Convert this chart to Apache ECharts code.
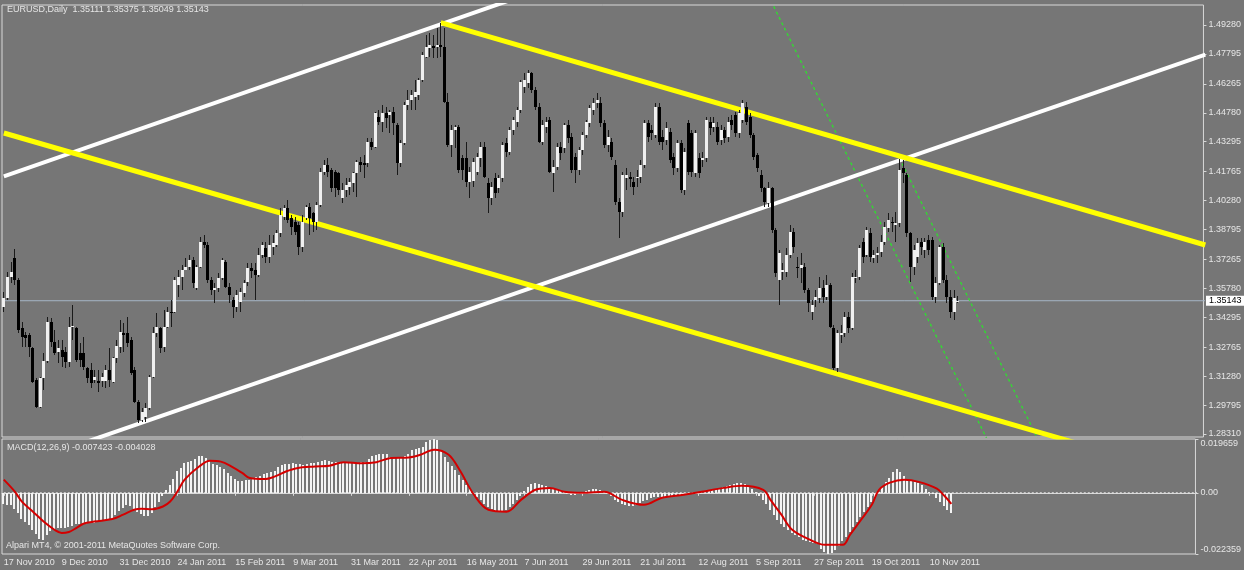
<!DOCTYPE html>
<html><head><meta charset="utf-8">
<script src="https://cdn.jsdelivr.net/npm/echarts@6/dist/echarts.min.js"></script>
<style>html,body{margin:0;padding:0;background:#767676;}#c{width:1244px;height:570px;}</style>
</head><body><div id="c"></div><script>
const symbolName = 'EURUSD', timeframe = 'Daily';
const startDate = '2010-11-17';
const dateTicks = ['17 Nov 2010','9 Dec 2010','31 Dec 2010','24 Jan 2011','15 Feb 2011','9 Mar 2011','31 Mar 2011','22 Apr 2011','16 May 2011','7 Jun 2011','29 Jun 2011','21 Jul 2011','12 Aug 2011','5 Sep 2011','27 Sep 2011','19 Oct 2011','10 Nov 2011'];
const priceTicks = [1.28310,1.29795,1.31280,1.32765,1.34295,1.35780,1.37265,1.38795,1.40280,1.41765,1.43295,1.44780,1.46265,1.47795,1.49280];
const macdTicks = [-0.022359, 0, 0.019659];
// [open, close, low, high]
const ohlc = [
[1.3483,1.3526,1.3458,1.3560],[1.3526,1.3637,1.3518,1.3663],[1.3637,1.3663,1.3603,1.3714],[1.3731,1.3620,1.3595,1.3778],[1.3620,1.3364,1.3347,1.3629],
[1.3372,1.3330,1.3278,1.3407],[1.3338,1.3321,1.3278,1.3355],[1.3338,1.3278,1.3227,1.3347],[1.3270,1.3099,1.3090,1.3278],[1.3107,1.2967,1.2962,1.3116],
[1.2967,1.3116,1.2962,1.3125],[1.3116,1.3207,1.3056,1.3244],[1.3207,1.3407,1.3193,1.3432],[1.3407,1.3304,1.3278,1.3424],[1.3304,1.3248,1.3236,1.3364],
[1.3253,1.3270,1.3193,1.3313],[1.3261,1.3227,1.3176,1.3313],[1.3253,1.3202,1.3168,1.3278],[1.3202,1.3381,1.3176,1.3432],[1.3381,1.3384,1.3313,1.3492],
[1.3372,1.3210,1.3202,1.3381],[1.3244,1.3210,1.3176,1.3296],[1.3244,1.3176,1.3159,1.3330],[1.3168,1.3116,1.3090,1.3176],[1.3159,1.3090,1.3065,1.3193],
[1.3107,1.3125,1.3090,1.3159],[1.3104,1.3095,1.3048,1.3159],[1.3104,1.3125,1.3073,1.3142],[1.3104,1.3159,1.3065,1.3185],[1.3159,1.3107,1.3073,1.3270],
[1.3099,1.3219,1.3090,1.3227],[1.3219,1.3282,1.3193,1.3313],[1.3278,1.3355,1.3244,1.3415],[1.3347,1.3338,1.3253,1.3398],[1.3347,1.3296,1.3278,1.3432],
[1.3313,1.3142,1.3133,1.3330],[1.3159,1.2996,1.2988,1.3176],[1.2996,1.2902,1.2885,1.3005],[1.2902,1.2945,1.2894,1.2962],[1.2920,1.2962,1.2894,1.2988],
[1.2962,1.3125,1.2954,1.3133],[1.3125,1.3347,1.3116,1.3381],[1.3347,1.3381,1.3330,1.3449],[1.3372,1.3270,1.3244,1.3381],[1.3278,1.3381,1.3253,1.3466],
[1.3381,1.3458,1.3372,1.3483],[1.3458,1.3449,1.3381,1.3518],[1.3458,1.3620,1.3449,1.3637],[1.3595,1.3637,1.3535,1.3672],[1.3637,1.3672,1.3569,1.3697],
[1.3672,1.3689,1.3672,1.3731],[1.3689,1.3723,1.3672,1.3749],[1.3723,1.3603,1.3578,1.3740],[1.3578,1.3689,1.3569,1.3697],[1.3689,1.3817,1.3680,1.3843],
[1.3817,1.3800,1.3783,1.3851],[1.3800,1.3620,1.3603,1.3817],[1.3620,1.3569,1.3543,1.3637],[1.3569,1.3578,1.3501,1.3603],[1.3578,1.3629,1.3560,1.3655],
[1.3629,1.3723,1.3620,1.3731],[1.3714,1.3586,1.3578,1.3723],[1.3586,1.3543,1.3501,1.3603],[1.3518,1.3483,1.3424,1.3535],[1.3483,1.3543,1.3458,1.3569],
[1.3509,1.3560,1.3458,1.3578],[1.3552,1.3603,1.3535,1.3620],[1.3612,1.3684,1.3590,1.3706],[1.3684,1.3667,1.3629,1.3706],[1.3671,1.3646,1.3518,1.3706],
[1.3646,1.3748,1.3637,1.3783],[1.3748,1.3800,1.3731,1.3817],[1.3783,1.3740,1.3706,1.3817],[1.3740,1.3800,1.3706,1.3851],[1.3791,1.3808,1.3748,1.3851],
[1.3800,1.3860,1.3791,1.3877],[1.3860,1.3954,1.3843,1.3988],[1.3945,1.3988,1.3928,1.4005],[1.3988,1.3928,1.3911,1.4030],[1.3937,1.3894,1.3851,1.3954],
[1.3919,1.3868,1.3851,1.3945],[1.3902,1.3791,1.3748,1.3919],[1.3791,1.3919,1.3766,1.3954],[1.3937,1.3997,1.3928,1.4005],[1.3997,1.3937,1.3851,1.4013],
[1.3962,1.3919,1.3868,1.3971],[1.3919,1.4005,1.3877,1.4022],[1.4005,1.4176,1.3997,1.4193],[1.4176,1.4210,1.4159,1.4236],[1.4210,1.4176,1.4150,1.4244],
[1.4184,1.4091,1.4073,1.4193],[1.4176,1.4091,1.4047,1.4184],[1.4167,1.4082,1.4056,1.4176],[1.4039,1.4082,1.4013,1.4116],[1.4082,1.4108,1.4047,1.4142],
[1.4099,1.4125,1.4056,1.4142],[1.4116,1.4167,1.4073,1.4176],[1.4167,1.4227,1.4047,1.4236],[1.4227,1.4210,1.4176,1.4253],[1.4219,1.4210,1.4142,1.4262],
[1.4219,1.4330,1.4202,1.4347],[1.4330,1.4304,1.4287,1.4347],[1.4304,1.4475,1.4296,1.4484],[1.4458,1.4432,1.4415,1.4492],[1.4432,1.4475,1.4381,1.4518],
[1.4475,1.4450,1.4398,1.4509],[1.4466,1.4484,1.4372,1.4492],[1.4484,1.4424,1.4364,1.4509],[1.4415,1.4219,1.4159,1.4424],[1.4219,1.4321,1.4202,1.4338],
[1.4321,1.4518,1.4313,1.4535],[1.4518,1.4543,1.4492,1.4595],[1.4543,1.4569,1.4492,1.4595],[1.4560,1.4586,1.4492,1.4646],[1.4569,1.4646,1.4543,1.4654],
[1.4646,1.4774,1.4637,1.4791],[1.4766,1.4817,1.4757,1.4877],[1.4808,1.4825,1.4766,1.4885],[1.4822,1.4808,1.4757,1.4877],[1.4817,1.4825,1.4757,1.4911],
[1.4825,1.4817,1.4766,1.4937],[1.4817,1.4535,1.4526,1.4911],[1.4535,1.4313,1.4304,1.4577],[1.4313,1.4389,1.4253,1.4415],[1.4389,1.4406,1.4296,1.4415],
[1.4406,1.4184,1.4167,1.4415],[1.4244,1.4184,1.4133,1.4261],[1.4244,1.4125,1.4099,1.4330],[1.4125,1.4176,1.4039,1.4202],[1.4130,1.4227,1.4099,1.4244],
[1.4176,1.4253,1.4159,1.4270],[1.4244,1.4304,1.4202,1.4330],[1.4304,1.4150,1.4142,1.4330],[1.4116,1.4039,1.3962,1.4142],[1.4039,1.4099,1.4005,1.4125],
[1.4142,1.4065,1.4039,1.4167],[1.4090,1.4142,1.4065,1.4159],[1.4142,1.4313,1.4125,1.4330],[1.4321,1.4279,1.4253,1.4347],[1.4279,1.4390,1.4262,1.4407],
[1.4390,1.4441,1.4364,1.4458],[1.4432,1.4492,1.4407,1.4509],[1.4492,1.4637,1.4475,1.4646],[1.4612,1.4646,1.4578,1.4680],[1.4629,1.4680,1.4603,1.4695],
[1.4680,1.4595,1.4578,1.4689],[1.4595,1.4509,1.4492,1.4612],[1.4509,1.4330,1.4321,1.4526],[1.4330,1.4415,1.4313,1.4441],[1.4407,1.4432,1.4373,1.4458],
[1.4441,1.4176,1.4167,1.4458],[1.4167,1.4202,1.4073,1.4236],[1.4202,1.4304,1.4185,1.4321],[1.4304,1.4270,1.4236,1.4330],[1.4296,1.4415,1.4270,1.4424],
[1.4415,1.4347,1.4321,1.4441],[1.4355,1.4185,1.4167,1.4373],[1.4253,1.4185,1.4116,1.4270],[1.4185,1.4287,1.4159,1.4304],[1.4287,1.4364,1.4262,1.4381],
[1.4364,1.4432,1.4347,1.4441],[1.4424,1.4501,1.4407,1.4518],[1.4492,1.4526,1.4466,1.4552],[1.4526,1.4543,1.4501,1.4578],[1.4526,1.4424,1.4407,1.4560],
[1.4424,1.4313,1.4296,1.4441],[1.4313,1.4355,1.4279,1.4390],[1.4330,1.4253,1.4236,1.4347],[1.4210,1.4022,1.4005,1.4236],[1.4022,1.3971,1.3834,1.4039],
[1.3971,1.4159,1.3945,1.4176],[1.4142,1.4159,1.4082,1.4193],[1.4150,1.4137,1.4099,1.4176],[1.4125,1.4099,1.4056,1.4150],[1.4142,1.4150,1.4099,1.4184],
[1.4150,1.4210,1.4116,1.4236],[1.4210,1.4424,1.4193,1.4441],[1.4424,1.4355,1.4330,1.4441],[1.4390,1.4373,1.4338,1.4415],[1.4364,1.4509,1.4347,1.4526],
[1.4509,1.4330,1.4313,1.4526],[1.4355,1.4330,1.4287,1.4390],[1.4338,1.4398,1.4313,1.4432],[1.4381,1.4236,1.4219,1.4398],[1.4253,1.4193,1.4159,1.4270],
[1.4193,1.4321,1.4176,1.4338],[1.4321,1.4082,1.4065,1.4338],[1.4082,1.4279,1.4056,1.4296],[1.4424,1.4176,1.4159,1.4441],[1.4373,1.4176,1.4150,1.4390],
[1.4167,1.4373,1.4150,1.4390],[1.4244,1.4167,1.4142,1.4270],[1.4236,1.4244,1.4202,1.4279],[1.4244,1.4441,1.4227,1.4458],[1.4432,1.4398,1.4364,1.4458],
[1.4407,1.4424,1.4381,1.4458],[1.4407,1.4330,1.4313,1.4432],[1.4338,1.4390,1.4313,1.4415],[1.4390,1.4347,1.4321,1.4407],[1.4355,1.4432,1.4330,1.4458],
[1.4441,1.4415,1.4390,1.4466],[1.4466,1.4373,1.4355,1.4483],[1.4373,1.4475,1.4347,1.4492],[1.4441,1.4526,1.4424,1.4543],[1.4509,1.4432,1.4415,1.4535],
[1.4458,1.4364,1.4347,1.4475],[1.4364,1.4253,1.4236,1.4373],[1.4261,1.4193,1.4176,1.4270],[1.4159,1.4090,1.4073,1.4184],[1.4090,1.4022,1.3996,1.4099],
[1.4014,1.4090,1.3996,1.4125],[1.4090,1.3877,1.3860,1.4099],[1.3877,1.3655,1.3638,1.3885],[1.3620,1.3757,1.3492,1.3774],[1.3663,1.3672,1.3620,1.3706],
[1.3663,1.3749,1.3638,1.3783],[1.3749,1.3868,1.3732,1.3902],[1.3868,1.3791,1.3757,1.3885],[1.3689,1.3680,1.3629,1.3740],[1.3680,1.3697,1.3603,1.3757],
[1.3689,1.3569,1.3552,1.3706],[1.3569,1.3501,1.3458,1.3578],[1.3458,1.3492,1.3415,1.3518],[1.3518,1.3535,1.3484,1.3569],[1.3527,1.3578,1.3501,1.3638],
[1.3578,1.3535,1.3501,1.3620],[1.3535,1.3595,1.3518,1.3646],[1.3595,1.3381,1.3373,1.3603],[1.3373,1.3167,1.3159,1.3390],[1.3167,1.3347,1.3150,1.3364],
[1.3338,1.3347,1.3296,1.3390],[1.3347,1.3432,1.3330,1.3458],[1.3432,1.3373,1.3347,1.3458],[1.3373,1.3638,1.3364,1.3655],[1.3629,1.3638,1.3603,1.3672],
[1.3638,1.3783,1.3620,1.3800],[1.3817,1.3740,1.3706,1.3834],[1.3749,1.3877,1.3740,1.3894],[1.3860,1.3740,1.3714,1.3885],[1.3732,1.3749,1.3706,1.3774],
[1.3749,1.3757,1.3706,1.3791],[1.3766,1.3817,1.3740,1.3851],[1.3817,1.3894,1.3800,1.3920],[1.3885,1.3928,1.3868,1.3962],[1.3920,1.3911,1.3868,1.3945],
[1.3902,1.3911,1.3817,1.3971],[1.3911,1.4184,1.3894,1.4240],[1.4193,1.4167,1.4116,1.4236],[1.4159,1.3860,1.3843,1.4167],[1.3860,1.3689,1.3612,1.3868],
[1.3689,1.3774,1.3646,1.3800],[1.3740,1.3808,1.3706,1.3834],[1.3817,1.3791,1.3749,1.3834],[1.3774,1.3817,1.3732,1.3834],[1.3825,1.3774,1.3749,1.3851],
[1.3825,1.3535,1.3518,1.3843],[1.3535,1.3603,1.3501,1.3638],[1.3603,1.3791,1.3595,1.3800],[1.3791,1.3620,1.3603,1.3808],[1.3620,1.3535,1.3501,1.3646],
[1.3535,1.3458,1.3424,1.3569],[1.3458,1.3527,1.3415,1.3569],[1.35111,1.35143,1.35049,1.35375]
];
const macdMain = [
-0.0040,-0.0044,-0.0046,-0.0058,-0.0075,-0.0095,-0.0106,-0.0118,-0.0136,-0.0150,
-0.0169,-0.0172,-0.0155,-0.0140,-0.0132,-0.0130,-0.0129,-0.0128,-0.0125,-0.0120,
-0.0115,-0.0114,-0.0113,-0.0114,-0.0112,-0.0110,-0.0106,-0.0102,-0.0100,-0.0099,
-0.0095,-0.0080,-0.0068,-0.0055,-0.0045,-0.0050,-0.0060,-0.0070,-0.0078,-0.0084,
-0.0086,-0.0072,-0.0053,-0.0034,-0.0012,0.0010,0.0028,0.0050,0.0078,0.0092,
0.0108,0.0114,0.0118,0.0125,0.0133,0.0136,0.0126,0.0118,0.0106,0.0102,
0.0096,0.0086,0.0074,0.0060,0.0050,0.0043,0.0044,0.0046,0.0048,0.0052,
0.0058,0.0063,0.0068,0.0073,0.0075,0.0078,0.0093,0.0102,0.0104,0.0106,
0.0108,0.0106,0.0104,0.0103,0.0106,0.0108,0.0109,0.0112,0.0116,0.0120,
0.0118,0.0114,0.0112,0.0110,0.0110,0.0110,0.0112,0.0110,0.0110,0.0112,
0.0114,0.0122,0.0133,0.0138,0.0140,0.0142,0.0140,0.0130,0.0126,0.0128,
0.0132,0.0136,0.0140,0.0157,0.0161,0.0164,0.0168,0.0185,0.0193,0.0197,
0.0192,0.0157,0.0132,0.0113,0.0099,0.0084,0.0066,0.0048,0.0029,0.0015,
0.0000,-0.0015,-0.0026,-0.0040,-0.0051,-0.0058,-0.0066,-0.0069,-0.0069,-0.0062,
-0.0051,-0.0040,-0.0026,-0.0011,0.0007,0.0022,0.0033,0.0037,0.0033,0.0029,
0.0026,0.0018,0.0015,0.0011,0.0007,0.0004,-0.0004,-0.0007,-0.0007,-0.0004,
0.0000,0.0007,0.0011,0.0015,0.0015,0.0011,0.0007,0.0000,-0.0011,-0.0026,
-0.0033,-0.0040,-0.0044,-0.0048,-0.0048,-0.0044,-0.0037,-0.0029,-0.0026,-0.0018,
-0.0015,-0.0015,-0.0015,-0.0015,-0.0015,-0.0011,-0.0011,-0.0007,-0.0004,-0.0004,
-0.0004,0.0000,0.0000,0.0004,0.0007,0.0011,0.0015,0.0015,0.0018,0.0022,
0.0026,0.0029,0.0033,0.0037,0.0037,0.0033,0.0026,0.0015,0.0004,-0.0011,
-0.0026,-0.0040,-0.0062,-0.0080,-0.0099,-0.0113,-0.0124,-0.0135,-0.0146,-0.0153,
-0.0161,-0.0172,-0.0175,-0.0179,-0.0183,-0.0186,-0.0205,-0.0215,-0.0224,-0.0220,
-0.0210,-0.0195,-0.0175,-0.0161,-0.0143,-0.0124,-0.0106,-0.0088,-0.0069,-0.0051,
-0.0033,-0.0015,0.0004,0.0022,0.0040,0.0055,0.0077,0.0088,0.0077,0.0062,
0.0051,0.0044,0.0040,0.0037,0.0029,0.0015,0.0004,-0.0004,-0.0018,-0.0033,
-0.0048,-0.0062,-0.007423
];
// signal line read as [bar index, value]
const macdSignal = [[0,0.0048],[3,0.0005],[5,-0.0032],[8,-0.0068],[11,-0.0105],[14,-0.0135],[16,-0.0147],[18,-0.0143],[20,-0.0129],[22,-0.0113],[25,-0.0105],[30,-0.0096],[33,-0.0080],[36,-0.0062],[38,-0.0058],[41,-0.0060],[44,-0.0050],[46,-0.0032],[48,0.0005],[50,0.0048],[54,0.0096],[57,0.0117],[60,0.0114],[63,0.0096],[66,0.0072],[68,0.0054],[72,0.0050],[75,0.0060],[78,0.0078],[81,0.0090],[86,0.0096],[90,0.0099],[94,0.0112],[99,0.0108],[103,0.0112],[107,0.0127],[112,0.0129],[115,0.0138],[119,0.0157],[123,0.0139],[126,0.0084],[130,-0.0007],[134,-0.0062],[139,-0.0069],[143,-0.0026],[147,0.0011],[151,0.0018],[155,0.0004],[160,0.0000],[166,0.0004],[171,-0.0026],[177,-0.0044],[182,-0.0018],[188,-0.0007],[193,0.0004],[199,0.0018],[204,0.0026],[210,0.0011],[212,-0.0026],[215,-0.0080],[218,-0.0135],[223,-0.0172],[227,-0.0190],[232,-0.0190],[234,-0.0153],[237,-0.0099],[240,-0.0044],[242,0.0011],[245,0.0037],[249,0.0048],[253,0.0040],[258,0.0015],[260,-0.0010],[262,-0.004028]];
// trend lines as [[barIndex, price], [barIndex, price]]
const whiteLines = [[[-0.5,1.41524],[140,1.50614]], [[20,1.27734],[329.5,1.47759]]];
const yellowLines = [[[120,1.4940],[329.5,1.3800]], [[-0.5,1.43741],[300,1.27553]]];
const greenLines = [[[210,1.50787],[271,1.27686]], [[246,1.4245],[284,1.2806]]];

const MONTHS = ['Jan','Feb','Mar','Apr','May','Jun','Jul','Aug','Sep','Oct','Nov','Dec'];
function weekdayDates(start, n) {
  const out = []; const d = new Date(start + 'T00:00:00Z');
  while (out.length < n) {
    const wd = d.getUTCDay();
    if (wd !== 0 && wd !== 6) out.push(d.getUTCDate() + ' ' + MONTHS[d.getUTCMonth()] + ' ' + d.getUTCFullYear());
    d.setUTCDate(d.getUTCDate() + 1);
  }
  return out;
}
const SLOTS = 330;
const dates = weekdayDates(startDate, ohlc.length);
const categories = dates.concat(Array.from({length: SLOTS - dates.length}, (_, k) => 'pad' + k));
const tickSet = new Set(dateTicks);
const showTick = (idx, val) => tickSet.has(val);

const FONT = '"Liberation Sans", Arial, sans-serif';
const TXT = '#e6e6e6';
const last = ohlc[ohlc.length - 1];
const titleText = symbolName + ',' + timeframe + '  ' + [last[0], last[3], last[2], last[1]].map(v => v.toFixed(5)).join(' ');
const lastSignal = macdSignal[macdSignal.length - 1][1];
const macdText = 'MACD(12,26,9) ' + macdMain[macdMain.length - 1].toFixed(6) + ' ' + lastSignal.toFixed(6);

function lineSeries(seg, color, width, type, z) {
  return {type: 'line', xAxisIndex: 0, yAxisIndex: 0, data: seg, symbol: 'none', silent: true, clip: true, z: z,
    lineStyle: {color: color, width: width, type: type || 'solid'}};
}

const chart = echarts.init(document.getElementById('c'), null, {renderer: 'canvas'});
const option = {
  animation: false,
  backgroundColor: '#767676',
  grid: [
    {left: 2, right: 34, top: 5, height: 432, show: true, borderColor: '#d8d8d8', borderWidth: 1, backgroundColor: 'transparent'},
    {left: 2, right: 34, top: 439, height: 115, show: true, borderColor: '#d8d8d8', borderWidth: 1, backgroundColor: 'transparent'}
  ],
  xAxis: [
    {type: 'category', gridIndex: 0, data: categories, boundaryGap: true, axisLine: {show: false}, axisTick: {show: false}, axisLabel: {show: false}, splitLine: {show: false}},
    {type: 'category', gridIndex: 1, data: categories, boundaryGap: true, position: 'bottom',
      axisLine: {show: true, lineStyle: {color: '#d8d8d8'}},
      axisTick: {show: true, alignWithLabel: true, interval: showTick, length: 3, lineStyle: {color: '#d8d8d8'}},
      axisLabel: {show: true, interval: showTick, align: 'left', margin: 4, color: TXT, fontSize: 9, fontFamily: FONT},
      splitLine: {show: false}}
  ],
  yAxis: [
    {type: 'value', gridIndex: 0, position: 'right', min: 1.28156, max: 1.50305, scale: true,
      axisLine: {show: false}, splitLine: {show: false},
      axisTick: {show: true, length: 3, customValues: priceTicks, lineStyle: {color: '#d8d8d8'}},
      axisLabel: {show: true, customValues: priceTicks, formatter: v => v.toFixed(5), margin: 5, color: TXT, fontSize: 9, fontFamily: FONT}},
    {type: 'value', gridIndex: 1, position: 'right', min: -0.022359, max: 0.019659,
      axisLine: {show: false}, splitLine: {show: false},
      axisTick: {show: true, length: 3, customValues: macdTicks, lineStyle: {color: '#d8d8d8'}},
      axisLabel: {show: true, customValues: macdTicks, formatter: v => (v === 0 ? '0.00' : v.toFixed(6)), margin: 5, color: TXT, fontSize: 9, fontFamily: FONT,
        verticalAlignMaxLabel: 'top', verticalAlignMinLabel: 'bottom'}}
  ],
  graphic: [
    {type: 'text', left: 7, top: 5, silent: true, style: {text: titleText, fill: TXT, font: '9px ' + FONT}},
    {type: 'text', left: 7, top: 443, silent: true, style: {text: macdText, fill: TXT, font: '9px ' + FONT}},
    {type: 'text', left: 6, top: 541, silent: true, style: {text: 'Alpari MT4, \u00a9 2001-2011 MetaQuotes Software Corp.', fill: TXT, font: '9px ' + FONT}}
  ],
  series: [
    // bid line
    {type: 'line', xAxisIndex: 0, yAxisIndex: 0, data: [[-0.5, last[1]], [SLOTS - 0.5, last[1]]], symbol: 'none', silent: true, z: 1,
      lineStyle: {color: '#a4b4c4', width: 1},
      endLabel: {show: true, formatter: last[1].toFixed(5), backgroundColor: '#ffffff', color: '#000000', fontSize: 9, fontFamily: FONT, padding: [1, 3, 0, 3], distance: 1}},
    lineSeries(greenLines[0], '#2ee02e', 1.3, [3, 3], 2),
    lineSeries(greenLines[1], '#2ee02e', 1.3, [3, 3], 2),
    lineSeries(whiteLines[0], '#ffffff', 4, 'solid', 3),
    lineSeries(whiteLines[1], '#ffffff', 4, 'solid', 3),
    lineSeries(yellowLines[0], '#ffff00', 5, 'solid', 3),
    lineSeries(yellowLines[1], '#ffff00', 5, 'solid', 3),
    {type: 'custom', xAxisIndex: 0, yAxisIndex: 0, z: 5, clip: true,
      data: ohlc.map((d, i) => [i, d[0], d[1], d[2], d[3]]),
      encode: {x: 0, y: [1, 2, 3, 4]},
      renderItem: function (params, api) {
        const i = api.value(0), o = api.value(1), c = api.value(2), l = api.value(3), h = api.value(4);
        const pO = api.coord([i, o]), pC = api.coord([i, c]), pL = api.coord([i, l]), pH = api.coord([i, h]);
        const cx = Math.floor(pO[0]) + 0.5;
        const top = Math.round(Math.min(pO[1], pC[1])), bot = Math.round(Math.max(pO[1], pC[1]));
        const bull = c >= o;
        return {type: 'group', children: [
          {type: 'line', shape: {x1: cx, y1: Math.round(pH[1]), x2: cx, y2: Math.round(pL[1])}, style: {stroke: '#1a1a1a', lineWidth: 1}},
          {type: 'rect', shape: {x: cx - 1.5, y: top, width: 3, height: Math.max(1, bot - top)}, style: {fill: bull ? '#f0f0f0' : '#000000'}}
        ]};
      }},
    // MACD zero level
    {type: 'line', xAxisIndex: 1, yAxisIndex: 1, data: [[-0.5, 0], [SLOTS - 0.5, 0]], symbol: 'none', silent: true, z: 1,
      lineStyle: {color: '#e8e8e8', width: 1, type: [2, 2]}},
    {type: 'custom', xAxisIndex: 1, yAxisIndex: 1, z: 3, clip: true,
      data: macdMain.map((v, i) => [i, v]),
      encode: {x: 0, y: 1},
      renderItem: function (params, api) {
        const i = api.value(0), v = api.value(1);
        const p0 = api.coord([i, 0]), p1 = api.coord([i, v]);
        const x = Math.floor(p0[0]);
        const y0 = Math.round(p0[1]), y1 = Math.round(p1[1]);
        return {type: 'rect', shape: {x: x - 1, y: Math.min(y0, y1), width: 2, height: Math.max(1, Math.abs(y1 - y0))}, style: {fill: '#f4f4f4'}};
      }},
    {type: 'line', xAxisIndex: 1, yAxisIndex: 1, data: macdSignal, smooth: 0.35, symbol: 'none', silent: true, z: 4,
      lineStyle: {color: '#d40000', width: 2}}
  ]
};
chart.setOption(option);
</script></body></html>
